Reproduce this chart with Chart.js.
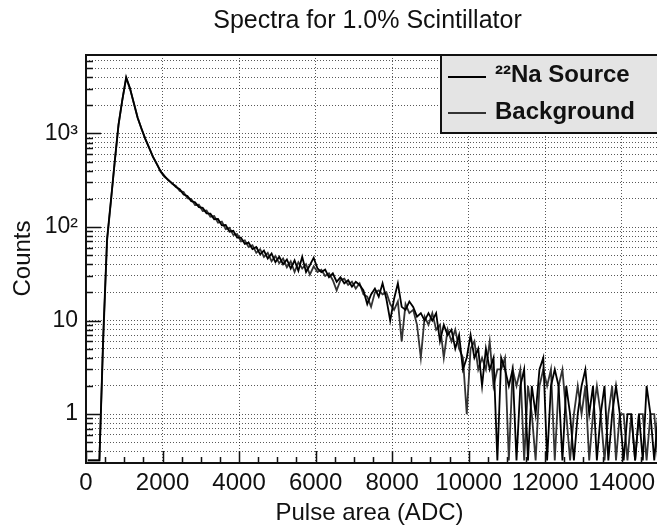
<!DOCTYPE html>
<html>
<head>
<meta charset="utf-8">
<script src="https://cdn.jsdelivr.net/npm/chart.js@4.4.1/dist/chart.umd.min.js"></script>
<style>
html,body{margin:0;padding:0;overflow:hidden;background:#fff;}
canvas{display:block;}
</style>
</head>
<body>
<canvas id="c" width="664" height="531"></canvas>
<script>
// ---- data ----
const titleText = 'Spectra for 1.0% Scintillator';
const xTitle = 'Pulse area (ADC)';
const yTitle = 'Counts';
const seriesNames = ['\u00B2\u00B2Na Source', 'Background'];

const binCenters = [
  50,150,250,350,450,550,650,750,850,950,
  1050,1150,1250,1350,1450,1550,1650,1750,1850,1950,
  2050,2150,2250,2350,2450,2550,2650,2750,2850,2950,
  3050,3150,3250,3350,3450,3550,3650,3750,3850,3950,
  4050,4150,4250,4350,4450,4550,4650,4750,4850,4950,
  5050,5150,5250,5350,5450,5550,5650,5750,5850,5950,
  6050,6150,6250,6350,6450,6550,6650,6750,6850,6950,
  7050,7150,7250,7350,7450,7550,7650,7750,7850,7950,
  8050,8150,8250,8350,8450,8550,8650,8750,8850,8950,
  9050,9150,9250,9350,9450,9550,9650,9750,9850,9950,
  10050,10150,10250,10350,10450,10550,10650,10750,10850,10950,
  11050,11150,11250,11350,11450,11550,11650,11750,11850,11950,
  12050,12150,12250,12350,12450,12550,12650,12750,12850,12950,
  13050,13150,13250,13350,13450,13550,13650,13750,13850,13950,
  14050,14150,14250,14350,14450,14550,14650,14750,14850,14950
];

const sourceCounts = [
  0,0,0,0,7,75,190,500,1250,2300,
  4000,3050,2100,1460,1130,870,700,565,470,395,
  352,316,295,268,254,222,215,189,184,163,
  160,140,139,121,122,104,105,89,91,77,
  77,66,68,58,61,51,56,46,52,42,
  48,40,45,36,44,34,48,33,39,47,
  36,33,35,29,32,26,29,25,27,23,
  26,24,21,15,19,22,18,25,17,10,
  17,25,14,13,16,14,11,12,10,12,
  10,12,6,9,7,8,5,7,3,4,
  7,4,5,2,5,3,4,0,4,3,
  2,3,0,2,3,0,2,1,3,4,
  0,2,3,2,0,2,1,0,1,2,
  3,1,2,0,1,2,0,1,2,1,
  0,1,1,0,1,0,2,1,0,1
];

const backgroundCounts = [
  0,0,0,0,6,70,185,490,1230,2280,
  3900,3000,2120,1480,1120,880,705,560,475,390,
  344,321,289,275,243,236,203,199,172,173,
  148,150,129,131,111,114,95,98,82,84,
  70,72,61,64,53,58,48,53,43,49,
  41,46,37,43,33,42,36,40,31,38,
  33,35,30,32,27,21,27,28,24,26,
  22,25,19,18,14,20,21,19,20,15,
  13,16,6,15,12,13,9,4,11,9,
  12,8,9,4,8,6,8,5,4,1,
  5,6,3,4,3,6,2,3,3,4,
  0,3,2,3,0,2,1,0,2,3,
  2,3,0,2,3,1,0,1,2,1,
  2,0,1,2,1,0,1,2,0,1,
  1,0,1,0,1,1,0,1,1,0
];

const xTickValues = [0,500,1000,1500,2000,2500,3000,3500,4000,4500,5000,5500,6000,6500,7000,7500,8000,8500,9000,9500,10000,10500,11000,11500,12000,12500,13000,13500,14000,14500];
const xLabelValues = [0,2000,4000,6000,8000,10000,12000,14000];
const yTickValues = [0.4,0.5,0.6,0.7,0.8,0.9,1,2,3,4,5,6,7,8,9,10,20,30,40,50,60,70,80,90,100,200,300,400,500,600,700,800,900,1000,2000,3000,4000,5000,6000];
const yLabelValues = [1,10,100,1000];
const yLabelTexts = ['1','10','10\u00B2','10\u00B3'];
const yMin = 0.32, yMax = 6900, xMin = 0, xMax = 15000;

// ---- rendering ----
const FONT = '"Liberation Sans", Arial, Helvetica, sans-serif';
// empty bins (0 counts) sit on the floor of the log axis, as in the original histogram plot
const toPts = ys => binCenters.map((x, i) => ({x: x, y: ys[i] > 0 ? ys[i] : yMin}));

const deco = {
  id: 'deco',
  afterDraw(chart) {
    const {ctx, chartArea: a, scales: {x, y}} = chart;
    ctx.save();
    ctx.strokeStyle = '#111';
    ctx.lineWidth = 1.5;
    ctx.beginPath();
    xTickValues.forEach(v => {
      const px = Math.round(x.getPixelForValue(v)) + 0.5;
      const len = xLabelValues.includes(v) ? 12 : 6;
      ctx.moveTo(px, a.bottom); ctx.lineTo(px, a.bottom - len);
    });
    yTickValues.forEach(v => {
      const py = Math.round(y.getPixelForValue(v)) + 0.5;
      const len = yLabelValues.includes(v) ? 15 : 7;
      ctx.moveTo(a.left, py); ctx.lineTo(a.left + len, py);
    });
    ctx.stroke();
    // frame
    ctx.lineWidth = 2;
    ctx.strokeStyle = '#111';
    ctx.strokeRect(a.left, a.top, a.right - a.left, a.bottom - a.top);
    // legend
    const lx = 441, ly = 55, lw = 300, lh = 78;
    ctx.fillStyle = '#e4e4e4';
    ctx.fillRect(lx, ly, lw, lh);
    ctx.strokeRect(lx, ly, lw, lh);
    const rows = [{ly: 77, ty: 82}, {ly: 113, ty: 119}];
    const cols = ['#000', '#333'];
    ctx.font = 'bold 24px ' + FONT;
    ctx.textAlign = 'left';
    ctx.textBaseline = 'alphabetic';
    rows.forEach((r, i) => {
      ctx.strokeStyle = cols[i];
      ctx.lineWidth = 1.8;
      ctx.beginPath(); ctx.moveTo(448, r.ly); ctx.lineTo(486, r.ly); ctx.stroke();
      ctx.fillStyle = '#111';
      ctx.fillText(seriesNames[i], 495, r.ty);
    });
    // titles
    ctx.fillStyle = '#111';
    ctx.font = '25px ' + FONT;
    ctx.textAlign = 'center';
    ctx.fillText(titleText, 367.5, 28);
    ctx.font = '24px ' + FONT;
    ctx.fillText(xTitle, 369.5, 520);
    ctx.translate(23, 258.5);
    ctx.rotate(-Math.PI / 2);
    ctx.textBaseline = 'middle';
    ctx.fillText(yTitle, 0, 0);
    ctx.restore();
  }
};

new Chart(document.getElementById('c'), {
  type: 'line',
  data: {
    datasets: [
      {label: seriesNames[0], data: toPts(sourceCounts), borderColor: '#000', borderWidth: 1.8, pointRadius: 0, tension: 0, fill: false},
      {label: seriesNames[1], data: toPts(backgroundCounts), borderColor: '#333', borderWidth: 1.8, pointRadius: 0, tension: 0, fill: false}
    ]
  },
  options: {
    responsive: false,
    animation: false,
    devicePixelRatio: 1,
    layout: {padding: {top: 55, right: 4, left: 0, bottom: 0}},
    plugins: {legend: {display: false}, title: {display: false}, tooltip: {enabled: false}},
    scales: {
      x: {
        type: 'linear', min: xMin, max: xMax,
        afterBuildTicks: s => { s.ticks = xTickValues.map(v => ({value: v})); },
        afterFit: s => { s.height = 68; },
        ticks: {
          autoSkip: false, maxRotation: 0, minRotation: 0, padding: 6,
          color: '#111', font: {family: FONT, size: 24},
          callback: v => xLabelValues.includes(v) ? String(v) : ''
        },
        grid: {
          drawTicks: false, lineWidth: 1,
          color: c => (c.tick && xLabelValues.includes(c.tick.value)) ? 'rgba(0,0,0,0.65)' : 'rgba(0,0,0,0)'
        },
        border: {display: false, dash: [1, 2]}
      },
      y: {
        type: 'logarithmic', min: yMin, max: yMax,
        afterBuildTicks: s => { s.ticks = yTickValues.map(v => ({value: v})); },
        afterFit: s => { s.width = 86; },
        ticks: {
          autoSkip: false, padding: 8,
          color: '#111', font: {family: FONT, size: 23},
          callback: v => { const k = yLabelValues.indexOf(v); return k >= 0 ? yLabelTexts[k] : ''; }
        },
        grid: {drawTicks: false, lineWidth: 1, color: 'rgba(0,0,0,0.65)'},
        border: {display: false, dash: [1, 2]}
      }
    }
  },
  plugins: [deco]
});
</script>
</body>
</html>
